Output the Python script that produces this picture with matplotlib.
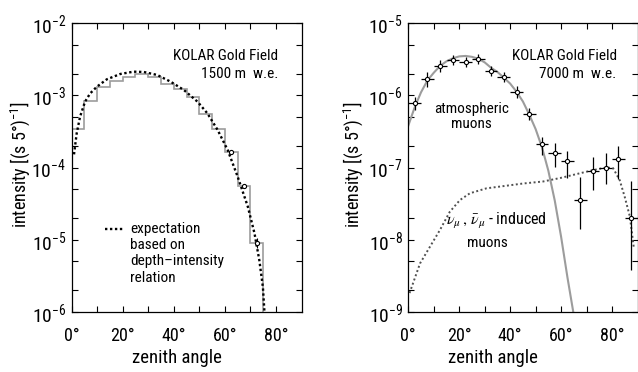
import math
import matplotlib
matplotlib.use("Agg")
import matplotlib.pyplot as plt
from matplotlib import font_manager
from matplotlib.ticker import FixedLocator, LogLocator, NullFormatter, FuncFormatter

avail = {f.name for f in font_manager.fontManager.ttflist}
cands = ['Roboto Condensed', 'Liberation Sans Narrow', 'DejaVu Sans Condensed', 'Roboto', 'DejaVu Sans']
FONT = [c for c in cands if c in avail] + ['DejaVu Sans']
plt.rcParams['font.family'] = FONT
plt.rcParams['mathtext.fontset'] = 'custom'
plt.rcParams['mathtext.rm'] = FONT[0]
plt.rcParams['mathtext.it'] = FONT[0] + ':italic'
plt.rcParams['mathtext.sf'] = FONT[0]

# ---------------- data: left panel (1500 m w.e.) ----------------
bin_edges_left = [0, 5, 10, 15, 20, 25, 30, 35, 40, 45, 50, 55, 60, 65, 70, 75]
hist_left = [3.38e-4, 8.4e-4, 1.31e-3, 1.57e-3, 1.77e-3, 1.97e-3, 1.81e-3, 1.42e-3,
             1.21e-3, 9.5e-4, 5.45e-4, 3.38e-4, 1.62e-4, 5.6e-5, 9.1e-6]
pts_left_angle = [62.5, 67.5, 72.5]
pts_left_val = [1.62e-4, 5.6e-5, 9.1e-6]
pts_left_lo = [1.57e-4, 5.25e-5, 7.8e-6]
pts_left_hi = [1.67e-4, 5.95e-5, 1.06e-5]
expect_angle = [0.98, 2.03, 3.35, 5.3, 7.3, 9.9, 13.8, 19.1, 24.3, 28.3, 33.5, 38.8,
                44, 49.3, 53.2, 57.2, 61.1, 65, 69, 71.6, 73.5, 74.9, 75.5]
expect_val = [1.52e-4, 2.97e-4, 5.05e-4, 8.15e-4, 1.06e-3, 1.31e-3, 1.66e-3, 1.97e-3,
              2.12e-3, 2.10e-3, 1.91e-3, 1.54e-3, 1.18e-3, 8.15e-4, 5.6e-4, 3.3e-4,
              1.75e-4, 7.5e-5, 2.87e-5, 1.23e-5, 5.2e-6, 2.2e-6, 1.0e-6]

# ---------------- data: right panel (7000 m w.e.) ----------------
pts_right_angle = [2.5, 7.5, 12.5, 17.5, 22.5, 27.5, 32.5, 37.5, 42.5, 47.5,
                   52.5, 57.5, 62.5, 67.5, 72.5, 77.5, 82.5, 87.5]
pts_right_val = [7.7e-7, 1.68e-6, 2.54e-6, 3.08e-6, 2.86e-6, 3.18e-6, 2.17e-6, 1.81e-6,
                 1.10e-6, 5.5e-7, 2.09e-7, 1.57e-7, 1.24e-7, 3.55e-8, 8.95e-8, 9.9e-8,
                 1.30e-7, 2.0e-8]
pts_right_lo = [6.2e-7, 1.32e-6, 2.10e-6, 2.63e-6, 2.44e-6, 2.7e-6, 1.85e-6, 1.54e-6,
                9.1e-7, 4.5e-7, 1.49e-7, 1.01e-7, 7.1e-8, 1.4e-8, 4.9e-8, 5.9e-8,
                6.9e-8, 3.8e-9]
pts_right_hi = [9.6e-7, 2.13e-6, 3.07e-6, 3.6e-6, 3.36e-6, 3.7e-6, 2.55e-6, 2.12e-6,
                1.33e-6, 6.6e-7, 2.67e-7, 2.16e-7, 1.71e-7, 7.46e-8, 1.41e-7, 1.57e-7,
                1.99e-7, 6.5e-8]
atm_angle = [0, 2.5, 5, 7.5, 10, 12.5, 15, 17.5, 20, 22.5, 25, 27.5, 30, 32.5, 35, 37.5,
             40, 42.5, 45, 47.5, 50, 52.5, 55, 57.5, 60, 62.5, 65]
atm_val = [3.8e-7, 6.8e-7, 1.1e-6, 1.6e-6, 2.05e-6, 2.55e-6, 2.95e-6, 3.25e-6, 3.45e-6,
           3.5e-6, 3.4e-6, 3.2e-6, 2.85e-6, 2.4e-6, 2.1e-6, 1.75e-6, 1.45e-6, 1.12e-6,
           8.2e-7, 5.4e-7, 3.4e-7, 1.9e-7, 9e-8, 3.5e-8, 1.1e-8, 3e-9, 9e-10]
nu_angle = [0.5, 4.6, 8.5, 12.4, 16.3, 20.3, 24.2, 30.7, 38.6, 45, 52.9, 60, 66, 72.6,
            77.8, 80.4, 83, 85, 87, 88.5]
nu_val = [1.83e-9, 4.7e-9, 8.0e-9, 1.36e-8, 2.44e-8, 3.55e-8, 4.4e-8, 5.15e-8, 5.6e-8,
          6.0e-8, 6.4e-8, 7.2e-8, 8.1e-8, 9.2e-8, 1.0e-7, 9.8e-8, 6.7e-8, 3.9e-8,
          2.1e-8, 8e-9]

x_major = [0, 20, 40, 60, 80]
x_minor = [10, 30, 50, 70]

fig = plt.figure(figsize=(6.38, 3.72), dpi=100)
ax1 = fig.add_axes([71.5 / 638, 60 / 372, 230 / 638, 289 / 372])
ax2 = fig.add_axes([408.3 / 638, 60 / 372, 229.2 / 638, 289 / 372])


def style(ax, ylim):
    ax.set_yscale('log')
    ax.set_xlim(0, 90)
    ax.set_ylim(*ylim)
    ax.xaxis.set_major_locator(FixedLocator(x_major))
    ax.xaxis.set_minor_locator(FixedLocator(x_minor))
    ax.xaxis.set_major_formatter(FuncFormatter(lambda v, p: f"{int(v)}°"))
    ax.yaxis.set_major_locator(LogLocator(base=10, numticks=20))
    ax.yaxis.set_minor_locator(LogLocator(base=10, subs=(2, 5), numticks=20))
    ax.yaxis.set_minor_formatter(NullFormatter())
    ax.yaxis.set_major_formatter(FuncFormatter(lambda v, p: r"$10^{%d}$" % round(math.log10(v))))
    ax.tick_params(which='both', direction='in', top=True, right=True, length=4, width=0.8)
    ax.tick_params(axis='x', labelsize=13, pad=10.5)
    ax.tick_params(axis='y', labelsize=14, pad=4)
    for s in ax.spines.values():
        s.set_linewidth(0.9)
    ax.set_ylabel(r"intensity [(s 5°)$^{-1}$]", fontsize=13)
    ax.set_xlabel("zenith angle", fontsize=13.5)


style(ax1, (1e-6, 1e-2))
style(ax2, (1e-9, 1e-5))
ax1.xaxis.set_label_coords(0.457, -0.128)
ax2.xaxis.set_label_coords(0.369, -0.128)
ax1.yaxis.set_label_coords(-0.172, 0.51)
ax2.yaxis.set_label_coords(-0.189, 0.51)

# left panel
ax1.stairs(hist_left, bin_edges_left, baseline=1e-8, color='#9c9c9c', linewidth=1.2)
ax1.plot(expect_angle, expect_val, color='black', linewidth=1.7, linestyle=(0, (1, 1.1)))
ax1.errorbar(pts_left_angle, pts_left_val,
             yerr=[[v - l for v, l in zip(pts_left_val, pts_left_lo)],
                   [h - v for v, h in zip(pts_left_val, pts_left_hi)]],
             fmt='o', ms=3, mfc='white', mec='black', mew=0.8, ecolor='black',
             elinewidth=0.8, capsize=0)
ax1.text(0.899, 0.872, "KOLAR Gold Field", transform=ax1.transAxes, ha='right',
         va='baseline', fontsize=11)
ax1.text(0.899, 0.810, "1500 m  w.e.", transform=ax1.transAxes, ha='right',
         va='baseline', fontsize=11)
ax1.plot([0.145, 0.225], [0.287, 0.287], transform=ax1.transAxes, color='black',
         linewidth=1.7, linestyle=(0, (1, 1.1)))
for i, line in enumerate(["expectation", "based on", "depth\u2013intensity", "relation"]):
    ax1.text(0.255, 0.274 - i * 0.0565, line, transform=ax1.transAxes, ha='left',
             va='baseline', fontsize=11)

# right panel
ax2.plot(atm_angle, atm_val, color='#9c9c9c', linewidth=1.5)
ax2.plot(nu_angle, nu_val, color='#505050', linewidth=1.4, linestyle=(0, (1, 1.3)))
ax2.errorbar(pts_right_angle, pts_right_val, xerr=2.5,
             yerr=[[v - l for v, l in zip(pts_right_val, pts_right_lo)],
                   [h - v for v, h in zip(pts_right_val, pts_right_hi)]],
             fmt='o', ms=3, mfc='white', mec='black', mew=0.8, ecolor='black',
             elinewidth=0.9, capsize=0)
ax2.text(0.909, 0.872, "KOLAR Gold Field", transform=ax2.transAxes, ha='right',
         va='baseline', fontsize=11)
ax2.text(0.909, 0.810, "7000 m  w.e.", transform=ax2.transAxes, ha='right',
         va='baseline', fontsize=11)
ax2.text(0.274, 0.69, "atmospheric", transform=ax2.transAxes, ha='center',
         va='baseline', fontsize=11)
ax2.text(0.274, 0.637, "muons", transform=ax2.transAxes, ha='center',
         va='baseline', fontsize=11)
ax2.text(0.165, 0.30, r"$\nu_\mu\,,\,\bar{\nu}_\mu$ - induced", transform=ax2.transAxes,
         ha='left', va='baseline', fontsize=11.5, math_fontfamily='stix')
ax2.text(0.345, 0.225, "muons", transform=ax2.transAxes, ha='center',
         va='baseline', fontsize=11)

fig.savefig("out.png", dpi=100)
